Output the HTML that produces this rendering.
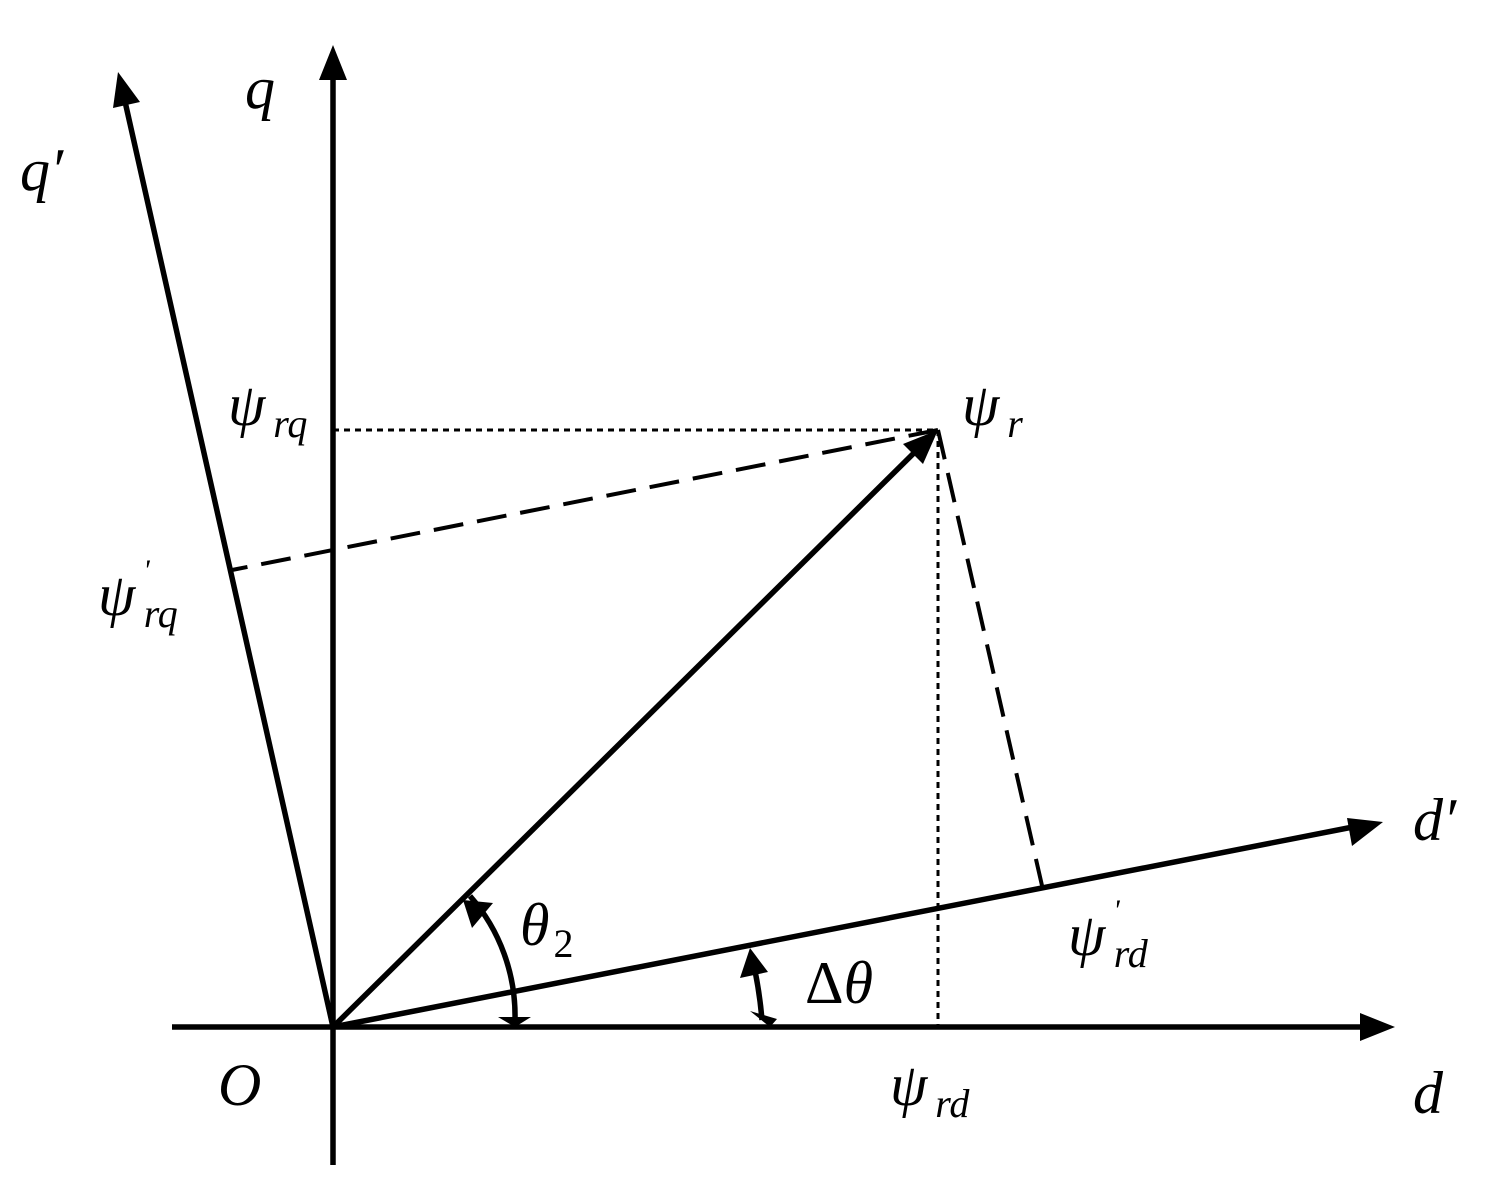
<!DOCTYPE html>
<html><head><style>body{margin:0;background:#fff}svg{display:block}text{font-family:"Liberation Serif",serif;font-style:italic;fill:#000}</style></head><body>
<svg width="1496" height="1197" viewBox="0 0 1496 1197" xmlns="http://www.w3.org/2000/svg">
<g stroke="#000" stroke-width="5.5" fill="none">
<line x1="172" y1="1027" x2="1370" y2="1027"/>
<line x1="333" y1="1165" x2="333" y2="70"/>
<line x1="333" y1="1027" x2="124" y2="97"/>
<line x1="333" y1="1027" x2="1358" y2="826"/>
<line x1="333" y1="1027" x2="920" y2="447"/>
<path d="M470 896 A182 182 0 0 1 515 1020"/>
<path d="M752 957 A430 430 0 0 1 762 1020"/>
</g>
<g stroke="#000" stroke-width="3" fill="none" stroke-dasharray="6,5">
<line x1="333" y1="430" x2="938" y2="430"/>
<line x1="938" y1="430" x2="938" y2="1027"/>
</g>
<g stroke="#000" stroke-width="4" fill="none" stroke-dasharray="30,14">
<line x1="938" y1="430" x2="1043" y2="890"/>
<line x1="938" y1="430" x2="232" y2="570"/>
</g>
<g fill="#000">
<polygon points="1395,1027 1360,1013 1360,1041"/>
<polygon points="333,45 319,80 347,80"/>
<polygon points="118,72 113,108 140,102"/>
<polygon points="1383,822 1347,818 1352,846"/>
<polygon points="938,430 903,444 923,464"/>
<polygon points="463,900 493,903 472,928"/>
<polygon points="515,1027 498,1017 531,1017"/>
<polygon points="750,948 768,972 740,978"/>
<polygon points="770,1027 750,1011 777,1019"/>
</g>
<g font-size="60">
<text x="245" y="108">q</text>
<text x="20" y="190">q′</text>
<text x="1413" y="840">d′</text>
<text x="1413" y="1113">d</text>
<text x="218" y="1105">O</text>
<text x="228" y="425">ψ<tspan font-size="40" dx="8" dy="12">rq</tspan></text>
<text x="962" y="425">ψ<tspan font-size="40" dx="8" dy="12">r</tspan></text>
<text x="98" y="615">ψ<tspan font-size="30" dx="8" dy="-35">'</tspan><tspan font-size="40" dx="-6" dy="47">rq</tspan></text>
<text x="1068" y="955">ψ<tspan font-size="30" dx="8" dy="-35">'</tspan><tspan font-size="40" dx="-6" dy="47">rd</tspan></text>
<text x="890" y="1105">ψ<tspan font-size="40" dx="8" dy="12">rd</tspan></text>
<text x="520" y="945">θ<tspan font-size="40" font-style="normal" dx="4" dy="12">2</tspan></text>
<text x="805" y="1003"><tspan font-style="normal">Δ</tspan>θ</text>
</g>
</svg>
</body></html>
